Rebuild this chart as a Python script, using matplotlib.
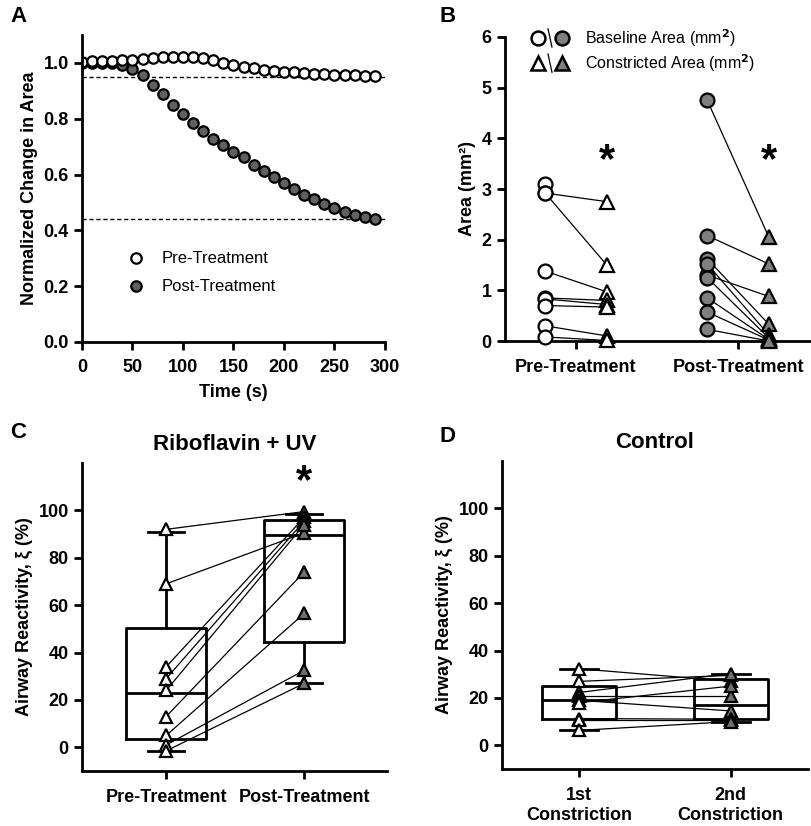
import matplotlib
matplotlib.use("Agg")
import matplotlib.pyplot as plt
import numpy as np

plt.rcParams["font.family"] = ["Liberation Sans", "DejaVu Sans"]
plt.rcParams["font.weight"] = "bold"
plt.rcParams["axes.linewidth"] = 2

# ---------------- data ----------------
# panel A
time_s = [0, 10, 20, 30, 40, 50, 60, 70, 80, 90, 100, 110, 120, 130, 140,
          150, 160, 170, 180, 190, 200, 210, 220, 230, 240, 250, 260, 270, 280, 290]
pre_area = [1.005, 1.006, 1.008, 1.008, 1.01, 1.012, 1.015, 1.018, 1.02, 1.022, 1.022,
            1.021, 1.018, 1.01, 1.0, 0.994, 0.986, 0.98, 0.976, 0.97, 0.968, 0.966, 0.964,
            0.962, 0.96, 0.958, 0.956, 0.955, 0.954, 0.953]
post_area = [1.0, 1.0, 1.0, 1.0, 0.994, 0.978, 0.955, 0.922, 0.888, 0.849, 0.816,
             0.783, 0.755, 0.729, 0.705, 0.681, 0.663, 0.633, 0.611, 0.590, 0.570,
             0.548, 0.528, 0.511, 0.495, 0.480, 0.466, 0.455, 0.447, 0.440]
pre_plateau = 0.95
post_plateau = 0.44

# panel B
b_groups = ["Pre-Treatment", "Post-Treatment"]
pre_baseline = [3.10, 2.92, 2.92, 1.38, 0.85, 0.83, 0.70, 0.30, 0.08]
pre_constricted = [np.nan, 2.75, 1.50, 0.97, 0.80, 0.72, 0.67, 0.10, 0.01]
post_baseline = [4.75, 2.08, 1.30, 1.62, 1.52, 1.25, 0.85, 0.57, 0.23]
post_constricted = [2.05, 1.52, 0.88, 0.33, 0.12, 0.06, 0.03, 0.02, 0.0]

# panel C
c_groups = ["Pre-Treatment", "Post-Treatment"]
c_pre = [92, 69, 34, 29, 24, 13, 5, 1, -1.5]
c_post = [99.5, 90.5, 97, 95.5, 94, 74, 56.5, 32.5, 27]
c_box = [  # whislo, q1, med, q3, whishi
    [-1.5, 3.5, 23, 50.5, 91],
    [27, 44.5, 89.5, 96, 98.5],
]

# panel D
d_groups = ["1st\nConstriction", "2nd\nConstriction"]
d_first = [32.3, 27, 22.3, 21, 19, 18, 11.3, 10.5, 6.3]
d_second = [27, 29.5, 30.3, 21, 14.5, 25, 11, 10.5, 10]
d_box = [
    [6.3, 11, 19, 25, 32.3],
    [10, 11, 17, 28, 30],
]

gray_a = "#606060"
gray_b = "#7f7f7f"

fig = plt.figure(figsize=(8.12, 8.26), dpi=100)
W, H = 812, 826


def add_ax(left, right, top, bottom):
    return fig.add_axes([left / W, 1 - bottom / H, (right - left) / W, (bottom - top) / H])


def style(ax):
    ax.spines["top"].set_visible(False)
    ax.spines["right"].set_visible(False)
    ax.tick_params(width=2, length=6, labelsize=13)
    for lab in ax.get_xticklabels() + ax.get_yticklabels():
        lab.set_fontweight("bold")


# ---------------- A ----------------
axA = add_ax(82, 385, 35, 342)
axA.plot([0, 300], [pre_plateau, pre_plateau], ls=(0, (3, 2)), color="k", lw=1)
axA.plot([0, 300], [post_plateau, post_plateau], ls=(0, (3, 2)), color="k", lw=1)
axA.plot(time_s, post_area, "o", ms=7.5, mfc=gray_a, mec="k", mew=1.6, ls="none")
axA.plot(time_s, pre_area, "o", ms=7.5, mfc="white", mec="k", mew=1.6, ls="none")
axA.set_xlim(0, 300)
axA.set_ylim(0, 1.1)
axA.set_xticks(range(0, 301, 50))
axA.set_yticks(np.arange(0, 1.01, 0.2))
axA.set_yticklabels([f"{v:.1f}" for v in np.arange(0, 1.01, 0.2)])
axA.set_xlabel("Time (s)", fontsize=13, fontweight="bold", labelpad=6)
axA.set_ylabel("Normalized Change in Area", fontsize=13, fontweight="bold")
axA.plot([53], [0.30], "o", ms=7.5, mfc="white", mec="k", mew=1.6)
axA.plot([53], [0.20], "o", ms=7.5, mfc=gray_a, mec="k", mew=1.6)
axA.text(79, 0.30, "Pre-Treatment", fontsize=12, fontweight="normal", va="center")
axA.text(79, 0.20, "Post-Treatment", fontsize=12, fontweight="normal", va="center")
style(axA)
axA.tick_params(axis="x", pad=6)

# ---------------- B ----------------
axB = add_ax(505, 810, 37, 341)
off = 0.19
for i, (base, con, fc) in enumerate([(pre_baseline, pre_constricted, "white"),
                                     (post_baseline, post_constricted, gray_b)]):
    xc = i + 1
    for b, c in zip(base, con):
        if not np.isnan(c):
            axB.plot([xc - off, xc + off], [b, c], color="k", lw=0.9, zorder=2)
    axB.plot([xc - off] * len(base), base, "o", ms=10, mfc=fc, mec="k", mew=1.6,
             ls="none", zorder=3, clip_on=False)
    axB.plot([xc + off] * len(con), con, "^", ms=9.5, mfc=fc, mec="k", mew=1.6,
             ls="none", zorder=3, clip_on=False)
    axB.text(xc + off, 3.55, "*", fontsize=30, ha="center", va="center", fontweight="bold")
axB.set_xlim(0.562, 2.444)
axB.set_ylim(0, 6)
axB.set_xticks([1, 2])
axB.set_xticklabels(b_groups)
axB.set_yticks(range(0, 7))
axB.set_ylabel("Area (mm²)", fontsize=13, fontweight="bold")
style(axB)
axB.tick_params(axis="x", pad=7)
# legend drawn by hand
for yy, mk in [(0.997, "o"), (0.914, "^")]:
    ms = 10 if mk == "o" else 9.5
    axB.plot([0.108], [yy], mk, ms=ms, mfc="white", mec="k", mew=1.8,
             transform=axB.transAxes, clip_on=False)
    axB.plot([0.187], [yy], mk, ms=ms, mfc=gray_b, mec="k", mew=1.8,
             transform=axB.transAxes, clip_on=False)
    axB.plot([0.141, 0.154], [yy + 0.03, yy - 0.03], color="k", lw=0.9,
             transform=axB.transAxes, clip_on=False)
axB.text(0.262, 0.997, "Baseline Area (mm$^2$)", fontsize=11.5, fontweight="normal",
         va="center", transform=axB.transAxes)
axB.text(0.262, 0.914, "Constricted Area (mm$^2$)", fontsize=11.5, fontweight="normal",
         va="center", transform=axB.transAxes)


# ---------------- C / D ----------------
def box_panel(ax, first, second, boxes, labels, title, width, capw, xlim):
    stats = []
    for lo, q1, med, q3, hi in boxes:
        stats.append(dict(whislo=lo, q1=q1, med=med, q3=q3, whishi=hi, fliers=[]))
    ax.bxp(stats, positions=[1, 2], widths=width, capwidths=capw, showfliers=False,
           boxprops=dict(lw=2, color="k"), whiskerprops=dict(lw=2, color="k"),
           capprops=dict(lw=2, color="k"), medianprops=dict(lw=2, color="k"),
           zorder=1)
    for a, b in zip(first, second):
        ax.plot([1, 2], [a, b], color="k", lw=0.9, zorder=2)
    ax.plot([1] * len(first), first, "^", ms=9, mfc="white", mec="k", mew=1.6,
            ls="none", zorder=3)
    ax.plot([2] * len(second), second, "^", ms=9, mfc="#707070", mec="k", mew=1.6,
            ls="none", zorder=3)
    ax.set_xlim(*xlim)
    ax.set_ylim(-10, 120)
    ax.set_yticks(range(0, 101, 20))
    ax.set_xticks([1, 2])
    ax.set_xticklabels(labels)
    ax.set_ylabel("Airway Reactivity, ξ (%)", fontsize=13, fontweight="bold")
    ax.set_title(title, fontsize=16, fontweight="bold", pad=9)
    style(ax)
    ax.tick_params(axis="x", pad=7)


axC = add_ax(82, 387, 463, 771)
box_panel(axC, c_pre, c_post, c_box, c_groups, "Riboflavin + UV", 0.58, 0.26, (0.39, 2.60))
axC.text(2, 112, "*", fontsize=30, ha="center", va="center", fontweight="bold")

axD = add_ax(502, 808, 461, 769)
box_panel(axD, d_first, d_second, d_box, d_groups, "Control", 0.49, 0.25, (0.49, 2.51))

# panel letters
fig.text(10 / W, 1 - 16 / H, "A", fontsize=16, fontweight="bold", va="center")
fig.text(440 / W, 1 - 16 / H, "B", fontsize=16, fontweight="bold", va="center")
fig.text(10 / W, 1 - 432 / H, "C", fontsize=16, fontweight="bold", va="center")
fig.text(440 / W, 1 - 437 / H, "D", fontsize=16, fontweight="bold", va="center")

fig.savefig("out.png", dpi=100)
